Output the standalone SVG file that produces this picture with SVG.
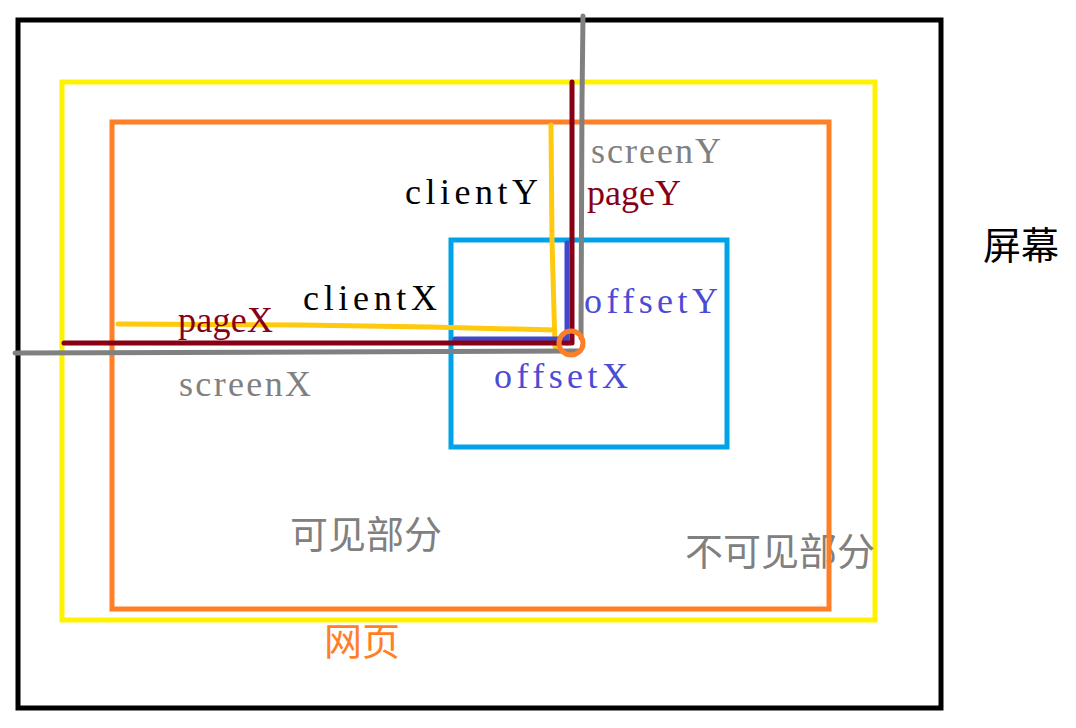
<svg xmlns="http://www.w3.org/2000/svg" width="1076" height="728" viewBox="0 0 1076 728">
<style>
.box{fill:none;stroke-width:5}
.ln{fill:none;stroke-width:5;stroke-linecap:round;stroke-linejoin:round}
.lat{font-family:"Liberation Serif",serif;font-size:36px}
.cjk{font-family:"Noto Sans CJK SC","Noto Sans CJK JP",sans-serif;font-size:38px}
</style>
<rect width="1076" height="728" fill="#ffffff"/>
<g id="screen">
<rect class="box" x="18" y="20" width="923" height="688" stroke="#000000"/>
<text class="cjk" x="983" y="259" fill="#000000">屏幕</text>
</g>
<g id="page">
<rect class="box" x="62" y="82" width="813" height="538" stroke="#FFF200"/>
<text class="cjk" x="324" y="655" fill="#FF7F27">网页</text>
<text class="cjk" x="685" y="565" fill="#808080">不可见部分</text>
</g>
<g id="viewport">
<rect class="box" x="112" y="122" width="717" height="487" stroke="#FF7F27"/>
<text class="cjk" x="290" y="548" fill="#808080">可见部分</text>
</g>
<g id="element">
<rect class="box" x="451" y="240" width="276" height="207" stroke="#00A2E8"/>
</g>
<g id="connectors">
<path class="ln" stroke="#FFC90E" d="M118 324 L300 325 L430 327 L555 330 M551 125 L552 240 L555 347"/>
<path class="ln" stroke="#3F48CC" d="M455 339 L567 339 M567 243 L567 343"/>
<path class="ln" stroke="#880015" d="M64 343 L572 343 M572 82 L572 343"/>
<path class="ln" stroke="#808080" d="M15 353 L580 351 M583 16 L582 100 L581 338"/>
<circle cx="571" cy="343" r="12" fill="none" stroke="#FF7F27" stroke-width="5"/>
</g>
<g id="labels">
<text class="lat" x="591" y="163" fill="#808080" textLength="130" lengthAdjust="spacing">screenY</text>
<text class="lat" x="405" y="204" fill="#000000" textLength="133" lengthAdjust="spacing">clientY</text>
<text class="lat" x="587" y="205" fill="#880015" textLength="94" lengthAdjust="spacing">pageY</text>
<text class="lat" x="584" y="313" fill="#4B4BD5" textLength="134" lengthAdjust="spacing">offsetY</text>
<text class="lat" x="303" y="310" fill="#000000" textLength="134" lengthAdjust="spacing">clientX</text>
<text class="lat" x="178" y="332" fill="#880015" textLength="95" lengthAdjust="spacing">pageX</text>
<text class="lat" x="494" y="388" fill="#4B4BD5" textLength="134" lengthAdjust="spacing">offsetX</text>
<text class="lat" x="179" y="396" fill="#808080" textLength="132" lengthAdjust="spacing">screenX</text>
</g>
</svg>
